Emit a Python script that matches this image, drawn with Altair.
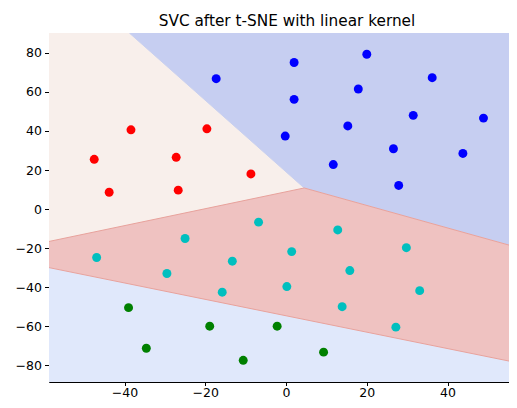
import altair as alt
import pandas as pd

# ---- data ----
red_x = [-47.5, -43.8, -38.4, -27.2, -26.7, -19.6, -8.7]
red_y = [25.5, 8.6, 40.6, 26.5, 9.7, 41.1, 18.0]
blue_x = [-17.3, 2.0, 20.0, 36.2, 2.0, 17.9, 31.5, 48.9, 15.3, -0.2, 26.6, 43.8, 11.7, 27.9]
blue_y = [66.8, 75.1, 79.3, 67.3, 56.2, 61.5, 48.0, 46.6, 42.6, 37.4, 30.9, 28.5, 22.8, 12.1]
cyan_x = [-46.9, -25.0, -29.5, -13.3, -15.8, -6.8, 12.8, 1.4, 29.8, 15.8, 0.2, 33.1, 13.9, 27.2]
cyan_y = [-24.8, -15.1, -33.0, -26.7, -42.6, -6.7, -10.7, -21.8, -19.8, -31.5, -39.7, -41.8, -50.0, -60.5]
green_x = [-39.0, -34.6, -18.9, -10.6, -2.2, 9.3]
green_y = [-50.5, -71.3, -60.0, -77.5, -60.0, -73.3]

x_lim = [-58.7, 57.2]
y_lim = [-88.6, 90.2]

# decision-region upper boundaries (vertices)
light_bx = [-58.7, -38.8, 4.5, 57.2]
light_by = [90.2, 90.2, 10.8, -19.6]
pink_bx = [-58.7, 4.5, 57.2]
pink_by = [-16.6, 10.8, -19.6]
low_bx = [-58.7, 57.2]
low_by = [-30.0, -78.7]

region_colors = {"top": "#c6cef1", "light": "#f8efeb", "pink": "#efc2c1", "low": "#e0e8fb"}

classes = ["red", "blue", "cyan", "green"]
class_colors = ["#ff0000", "#0000ff", "#00bfbf", "#008000"]

pts = pd.concat([
    pd.DataFrame({"x": red_x, "y": red_y, "c": "red"}),
    pd.DataFrame({"x": blue_x, "y": blue_y, "c": "blue"}),
    pd.DataFrame({"x": cyan_x, "y": cyan_y, "c": "cyan"}),
    pd.DataFrame({"x": green_x, "y": green_y, "c": "green"}),
], ignore_index=True)

xs = alt.Scale(domain=x_lim, nice=False, zero=False)
ys = alt.Scale(domain=y_lim, nice=False, zero=False)

xax = alt.Axis(values=[-40, -20, 0, 20, 40], title=None, grid=False, tickColor="black",
               tickSize=3.5, labelPadding=1, labelFontSize=12.5, labelColor="black",
               labelFont="DejaVu Sans", domain=False)
yax = alt.Axis(values=[-80, -60, -40, -20, 0, 20, 40, 60, 80], title=None, grid=False,
               tickColor="black", tickSize=4.5, labelPadding=3, labelFontSize=12.5,
               labelColor="black", labelFont="DejaVu Sans", domain=False)


def region(bx, by, color):
    df = pd.DataFrame({"x": bx, "y": by, "y0": y_lim[0]})
    return alt.Chart(df).mark_area(color=color, opacity=1, clip=True).encode(
        x=alt.X("x:Q", scale=xs, axis=xax),
        y=alt.Y("y:Q", scale=ys, axis=yax),
        y2="y0:Q",
    )


def edge(bx, by, color):
    df = pd.DataFrame({"x": bx, "y": by})
    return alt.Chart(df).mark_line(color=color, strokeWidth=1, clip=True).encode(
        x=alt.X("x:Q", scale=xs), y=alt.Y("y:Q", scale=ys)
    )


top = region([x_lim[0], x_lim[1]], [y_lim[1], y_lim[1]], region_colors["top"])
light = region(light_bx, light_by, region_colors["light"])
pink = region(pink_bx, pink_by, region_colors["pink"])
low = region(low_bx, low_by, region_colors["low"])

e1 = edge(light_bx[1:3], light_by[1:3], "#c9d0ee")
e2 = edge(pink_bx, pink_by, "#e8a29c")
e3 = edge(low_bx, low_by, "#e8a29c")

points = alt.Chart(pts).mark_circle(size=80, opacity=1).encode(
    x=alt.X("x:Q", scale=xs),
    y=alt.Y("y:Q", scale=ys),
    color=alt.Color("c:N", scale=alt.Scale(domain=classes, range=class_colors), legend=None),
)

chart = alt.layer(top, light, pink, low, e1, e2, e3, points).properties(
    width=468,
    height=349,
    title=alt.TitleParams("SVC after t-SNE with linear kernel", fontSize=15.3,
                          font="DejaVu Sans", fontWeight="normal", color="black",
                          anchor="middle", offset=4, dx=4),
    autosize=alt.AutoSizeParams(type="none"),
    padding={"left": 41, "top": 25, "right": -8, "bottom": 18},
).configure_view(stroke="black", strokeWidth=1)

chart.save("out.html", embed_options={"renderer": "svg", "actions": False})
